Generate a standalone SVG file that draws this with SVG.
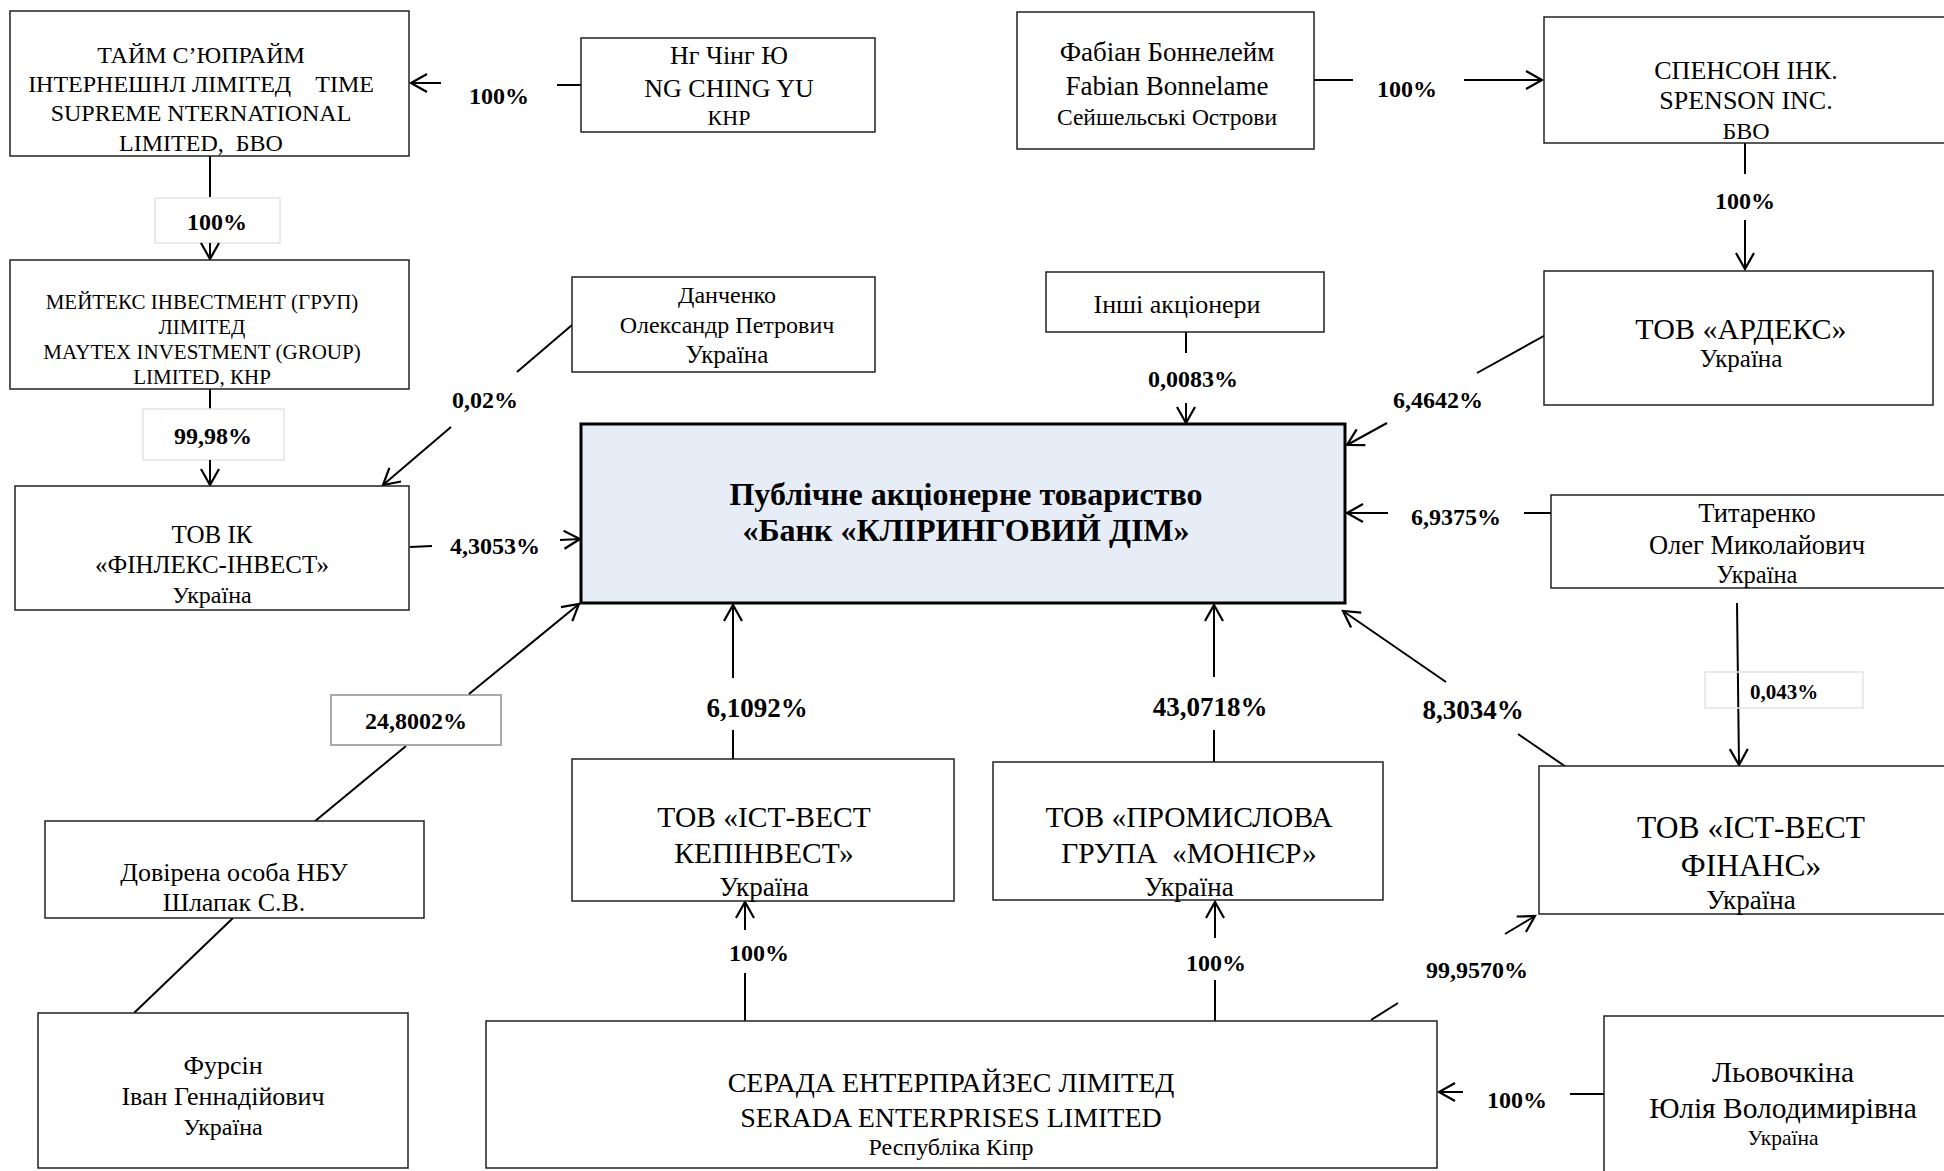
<svg xmlns="http://www.w3.org/2000/svg" width="1944" height="1171" viewBox="0 0 1944 1171">
<style>
.b{fill:#fff;stroke:#222;stroke-width:1.5}
.bank{fill:#e7edf6;stroke:#000;stroke-width:3}
.lb{fill:none;stroke:#e4e4e4;stroke-width:1.5}
.lbg{fill:#fff;stroke:#a9a9a9;stroke-width:2}
text{font-family:"Liberation Serif","Times New Roman",serif;fill:#000;text-anchor:middle}
.p{font-weight:bold;font-size:24px}
.pl{font-weight:bold;font-size:27px}
.ps{font-weight:bold;font-size:21px}
.c{stroke:#000;stroke-width:2;fill:none}
.a{stroke:#000;stroke-width:2;fill:none;marker-end:url(#ah)}
.pre{white-space:pre}
</style>
<defs>
<marker id="ah" markerUnits="userSpaceOnUse" markerWidth="22" markerHeight="22" viewBox="-18 -11 22 22" refX="0" refY="0" orient="auto"><path d="M-16,-9 L0,0 L-16,9" fill="none" stroke="#000" stroke-width="2.2"/></marker>
</defs>
<rect width="1944" height="1171" fill="#fff"/>

<g id="connectors">
<line class="c" x1="581" y1="85" x2="557" y2="85"/>
<line class="a" x1="441" y1="83" x2="411" y2="83"/>
<text class="p" x="499" y="104">100%</text>

<line class="c" x1="210" y1="156" x2="210" y2="197"/>
<rect class="lb" x="155" y="198" width="125" height="45"/>
<text class="p" x="217" y="230">100%</text>
<line class="a" x1="210" y1="243" x2="210" y2="259"/>

<line class="c" x1="210" y1="389" x2="210" y2="409"/>
<rect class="lb" x="143" y="409" width="141" height="51"/>
<text class="p" x="213" y="444">99,98%</text>
<line class="a" x1="210" y1="460" x2="210" y2="485"/>

<line class="c" x1="572" y1="325" x2="517" y2="372"/>
<text class="p" x="485" y="408">0,02%</text>
<line class="a" x1="451" y1="427" x2="383" y2="485"/>

<line class="c" x1="410" y1="547" x2="432" y2="546"/>
<text class="p" x="495" y="554">4,3053%</text>
<line class="a" x1="560" y1="540" x2="580" y2="539"/>

<line class="c" x1="314" y1="822" x2="406" y2="746"/>
<rect class="lbg" x="331" y="695" width="170" height="50"/>
<text class="p" x="416" y="729">24,8002%</text>
<line class="a" x1="469" y1="694" x2="579" y2="604"/>

<line class="c" x1="233" y1="918" x2="134" y2="1013"/>

<line class="c" x1="1186" y1="332" x2="1186" y2="353"/>
<text class="p" x="1193" y="387">0,0083%</text>
<line class="a" x1="1186" y1="403" x2="1186" y2="423"/>

<line class="c" x1="1314" y1="80" x2="1353" y2="80"/>
<text class="p" x="1407" y="97">100%</text>
<line class="a" x1="1464" y1="80" x2="1542" y2="80"/>

<line class="c" x1="1745" y1="143" x2="1745" y2="174"/>
<text class="p" x="1745" y="209">100%</text>
<line class="a" x1="1745" y1="220" x2="1745" y2="269"/>

<line class="c" x1="1551" y1="332" x2="1477" y2="373"/>
<text class="p" x="1438" y="408">6,4642%</text>
<line class="a" x1="1387" y1="423" x2="1347" y2="445"/>

<line class="c" x1="1551" y1="513" x2="1524" y2="513"/>
<text class="p" x="1456" y="525">6,9375%</text>
<line class="a" x1="1388" y1="513" x2="1347" y2="513"/>

<line class="a" x1="1737" y1="603" x2="1739" y2="765"/>
<rect class="lb" x="1705" y="672" width="158" height="36"/>
<text class="ps" x="1784" y="699">0,043%</text>

<line class="c" x1="1569" y1="769" x2="1518" y2="734"/>
<text class="pl" x="1473" y="719">8,3034%</text>
<line class="a" x1="1446" y1="682" x2="1343" y2="611"/>

<line class="c" x1="733" y1="759" x2="733" y2="730"/>
<text class="pl" x="757" y="717">6,1092%</text>
<line class="a" x1="733" y1="678" x2="733" y2="605"/>

<line class="c" x1="1214" y1="762" x2="1214" y2="730"/>
<text class="pl" x="1210" y="716">43,0718%</text>
<line class="a" x1="1214" y1="677" x2="1214" y2="605"/>

<line class="c" x1="745" y1="1021" x2="745" y2="973"/>
<text class="p" x="759" y="961">100%</text>
<line class="a" x1="745" y1="930" x2="745" y2="902"/>

<line class="c" x1="1215" y1="1021" x2="1215" y2="980"/>
<text class="p" x="1216" y="971">100%</text>
<line class="a" x1="1215" y1="938" x2="1215" y2="902"/>

<line class="c" x1="1371" y1="1020" x2="1398" y2="1003"/>
<text class="p" x="1477" y="978">99,9570%</text>
<line class="a" x1="1505" y1="934" x2="1535" y2="916"/>

<line class="c" x1="1604" y1="1094" x2="1570" y2="1094"/>
<text class="p" x="1517" y="1108">100%</text>
<line class="a" x1="1463" y1="1092" x2="1439" y2="1092"/>
</g>

<g id="time-supreme">
<rect class="b" x="10" y="11" width="399" height="145"/>
<text font-size="24" x="201" y="63">ТАЙМ С’ЮПРАЙМ</text>
<text class="pre" font-size="24" x="201" y="92">ІНТЕРНЕШНЛ ЛІМІТЕД    TIME</text>
<text font-size="24" x="201" y="121">SUPREME NTERNATIONAL</text>
<text class="pre" font-size="24" x="201" y="151">LIMITED,  БВО</text>
</g>

<g id="ng-ching-yu">
<rect class="b" x="581" y="38" width="294" height="94"/>
<text font-size="26" x="729" y="64">Нг Чінг Ю</text>
<text font-size="26" x="729" y="97">NG CHING YU</text>
<text font-size="22" x="729" y="125">КНР</text>
</g>

<g id="maytex">
<rect class="b" x="10" y="260" width="399" height="129"/>
<text font-size="21" x="202" y="309">МЕЙТЕКС ІНВЕСТМЕНТ (ГРУП)</text>
<text font-size="21" x="202" y="334">ЛІМІТЕД</text>
<text font-size="21" x="202" y="359">MAYTEX INVESTMENT (GROUP)</text>
<text font-size="21" x="202" y="384">LIMITED, КНР</text>
</g>

<g id="danchenko">
<rect class="b" x="572" y="277" width="303" height="95"/>
<text font-size="24" x="727" y="303">Данченко</text>
<text font-size="24" x="727" y="333">Олександр Петрович</text>
<text font-size="25" x="727" y="363">Україна</text>
</g>

<g id="finlex">
<rect class="b" x="15" y="486" width="394" height="124"/>
<text font-size="25" x="212" y="543">ТОВ ІК</text>
<text font-size="25" x="212" y="573">«ФІНЛЕКС-ІНВЕСТ»</text>
<text font-size="24" x="212" y="603">Україна</text>
</g>

<g id="bank">
<rect class="bank" x="581" y="424" width="764" height="179"/>
<text font-size="32" font-weight="bold" x="966" y="505">Публічне акціонерне товариство</text>
<text font-size="32" font-weight="bold" x="966" y="541">«Банк «КЛІРИНГОВИЙ ДІМ»</text>
</g>

<g id="dovirena">
<rect class="b" x="45" y="821" width="379" height="97"/>
<text font-size="26" x="234" y="881">Довірена особа НБУ</text>
<text font-size="26" x="234" y="911">Шлапак С.В.</text>
</g>

<g id="fursin">
<rect class="b" x="38" y="1013" width="370" height="155"/>
<text font-size="26" x="223" y="1074">Фурсін</text>
<text font-size="26" x="223" y="1105">Іван Геннадійович</text>
<text font-size="24" x="223" y="1135">Україна</text>
</g>

<g id="fabian">
<rect class="b" x="1017" y="12" width="297" height="137"/>
<text font-size="27" x="1167" y="61">Фабіан Боннелейм</text>
<text font-size="27" x="1167" y="95">Fabian Bonnelame</text>
<text font-size="23.5" x="1167" y="125">Сейшельські Острови</text>
</g>

<g id="spenson">
<rect class="b" x="1544" y="17" width="420" height="126"/>
<text font-size="26" x="1746" y="79">СПЕНСОН ІНК.</text>
<text font-size="26" x="1746" y="109">SPENSON INC.</text>
<text font-size="24" x="1746" y="139">БВО</text>
</g>

<g id="inshi">
<rect class="b" x="1046" y="272" width="278" height="60"/>
<text font-size="26" x="1177" y="313">Інші акціонери</text>
</g>

<g id="ardex">
<rect class="b" x="1544" y="271" width="389" height="134"/>
<text font-size="30" x="1741" y="339">ТОВ «АРДЕКС»</text>
<text font-size="25" x="1741" y="367">Україна</text>
</g>

<g id="tytarenko">
<rect class="b" x="1551" y="495" width="420" height="93"/>
<text font-size="26.5" x="1757" y="522">Титаренко</text>
<text font-size="26.5" x="1757" y="554">Олег Миколайович</text>
<text font-size="24.5" x="1757" y="583">Україна</text>
</g>

<g id="east-west-finance">
<rect class="b" x="1539" y="766" width="420" height="148"/>
<text font-size="31.5" x="1751" y="838">ТОВ «ІСТ-ВЕСТ</text>
<text font-size="31.5" x="1751" y="876">ФІНАНС»</text>
<text font-size="27" x="1751" y="909">Україна</text>
</g>

<g id="east-west-capinvest">
<rect class="b" x="572" y="759" width="382" height="142"/>
<text font-size="29.5" x="764" y="827">ТОВ «ІСТ-ВЕСТ</text>
<text font-size="29.5" x="764" y="863">КЕПІНВЕСТ»</text>
<text font-size="27" x="764" y="896">Україна</text>
</g>

<g id="monier">
<rect class="b" x="993" y="762" width="390" height="138"/>
<text font-size="29.5" x="1189" y="827">ТОВ «ПРОМИСЛОВА</text>
<text class="pre" font-size="29.5" x="1189" y="863">ГРУПА  «МОНІЄР»</text>
<text font-size="27" x="1189" y="896">Україна</text>
</g>

<g id="serada">
<rect class="b" x="486" y="1021" width="951" height="147"/>
<text font-size="28" x="951" y="1092">СЕРАДА ЕНТЕРПРАЙЗЕС ЛІМІТЕД</text>
<text font-size="28" x="951" y="1127">SERADA ENTERPRISES LIMITED</text>
<text font-size="24" x="951" y="1155">Республіка Кіпр</text>
</g>

<g id="lovochkina">
<rect class="b" x="1604" y="1016" width="420" height="200"/>
<text font-size="29.5" x="1783" y="1082">Льовочкіна</text>
<text font-size="29.5" x="1783" y="1118">Юлія Володимирівна</text>
<text font-size="21.5" x="1783" y="1145">Україна</text>
</g>
</svg>
